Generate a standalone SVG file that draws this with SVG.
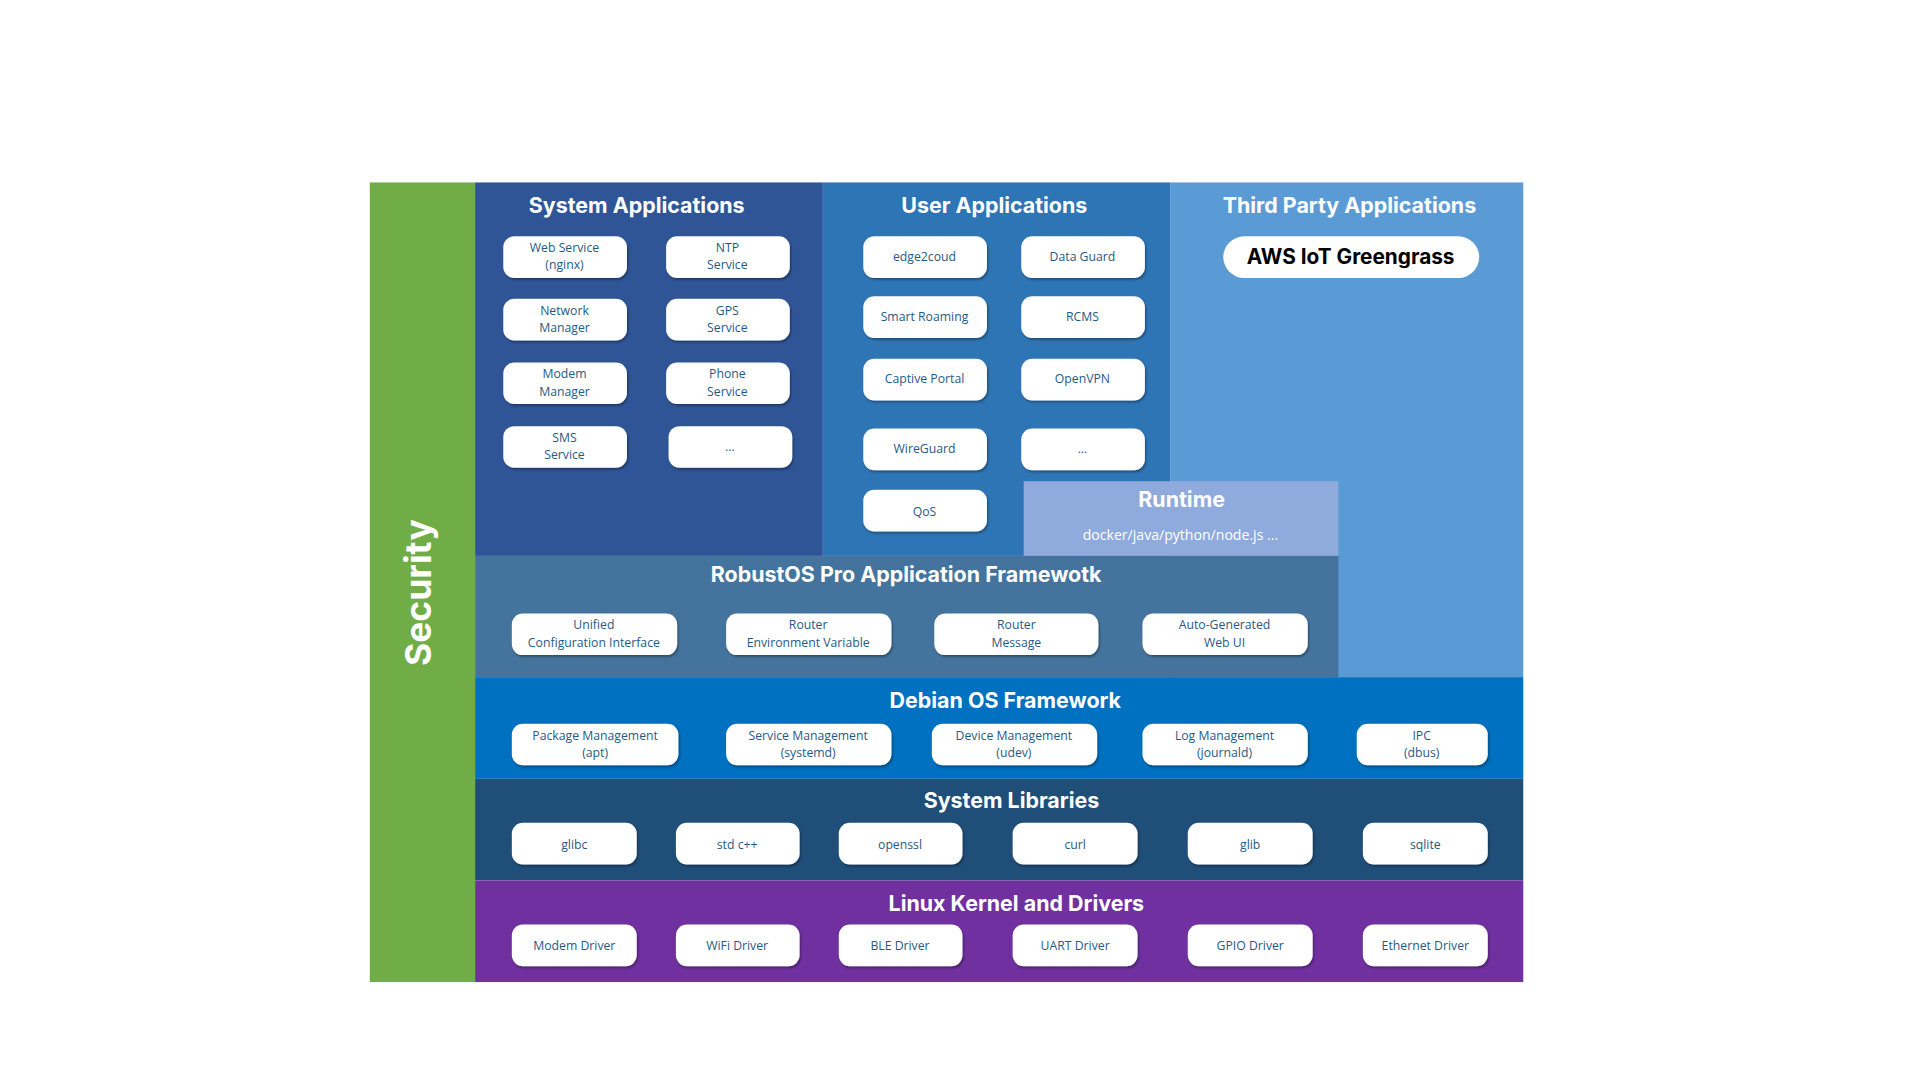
<svg xmlns="http://www.w3.org/2000/svg" width="1920" height="1080" viewBox="0 0 1920 1080">
<defs>
<filter id="sh" x="-10%" y="-20%" width="130%" height="150%"><feDropShadow dx="1" dy="1.5" stdDeviation="1" flood-color="#000" flood-opacity="0.35"/></filter>
</defs>
<style>
.t{font-family:Inter,"Liberation Sans",sans-serif;font-weight:bold;fill:#fff;font-size:17.5px;text-anchor:middle}
.b rect{fill:#fff;filter:url(#sh)}
.b text{font-family:"Open Sans","Liberation Sans",sans-serif;font-size:10px;fill:#1f5a86;text-anchor:middle}
</style>
<rect width="1920" height="1080" fill="#fff"/>
<g transform="scale(1.2245)">
<g id="layers">
<rect x="302" y="149" width="86" height="653" fill="#70AD47"/>
<rect x="388" y="149" width="284" height="305" fill="#2F5597"/>
<rect x="672" y="149" width="284" height="305" fill="#2E75B6"/>
<rect x="956" y="149" width="288" height="404" fill="#5B9BD5"/>
<rect x="836" y="393" width="257" height="61" fill="#8FAADC"/>
<rect x="388" y="454" width="705" height="99" fill="#44749D"/>
<rect x="388" y="553" width="856" height="83" fill="#0070C0"/>
<rect x="388" y="636" width="856" height="83" fill="#1F4E79"/>
<rect x="388" y="719" width="856" height="83" fill="#7030A0"/>
<text class="t" transform="translate(352,484) rotate(-90)" style="font-size:29px">Security</text>
<text class="t" x="520" y="174">System Applications</text>
<text class="t" x="812" y="174">User Applications</text>
<text class="t" x="1102" y="174">Third Party Applications</text>
<text class="t" x="965" y="414">Runtime</text>
<text x="964" y="441" font-family="'Open Sans','Liberation Sans',sans-serif" font-size="11.5" fill="#fff" text-anchor="middle">docker/java/python/node.js ...</text>
<text class="t" x="740" y="475">RobustOS Pro Application Framewotk</text>
<text class="t" x="821" y="578">Debian OS Framework</text>
<text class="t" x="826" y="660">System Libraries</text>
<text class="t" x="830" y="744">Linux Kernel and Drivers</text>
</g>
<g id="aws"><rect x="999" y="193" width="209" height="34" rx="17" fill="#fff"/><text x="1103" y="216" font-family="Inter,'Liberation Sans',sans-serif" font-weight="bold" font-size="17" text-anchor="middle">AWS IoT Greengrass</text></g>
<g class="b">
<g id="web"><rect x="411" y="193" width="101" height="34" rx="9"/><text x="461" y="206">Web Service</text><text x="461" y="220">(nginx)</text></g>
<g id="ntp"><rect x="544" y="193" width="101" height="34" rx="9"/><text x="594" y="206">NTP</text><text x="594" y="220">Service</text></g>
<g id="nm"><rect x="411" y="244" width="101" height="34" rx="9"/><text x="461" y="257">Network</text><text x="461" y="271">Manager</text></g>
<g id="gps"><rect x="544" y="244" width="101" height="34" rx="9"/><text x="594" y="257">GPS</text><text x="594" y="271">Service</text></g>
<g id="mm"><rect x="411" y="296" width="101" height="34" rx="9"/><text x="461" y="309">Modem</text><text x="461" y="323">Manager</text></g>
<g id="phone"><rect x="544" y="296" width="101" height="34" rx="9"/><text x="594" y="309">Phone</text><text x="594" y="323">Service</text></g>
<g id="sms"><rect x="411" y="348" width="101" height="34" rx="9"/><text x="461" y="361">SMS</text><text x="461" y="375">Service</text></g>
<g id="sys-more"><rect x="546" y="348" width="101" height="34" rx="9"/><text x="596" y="368">...</text></g>

<g id="e2c"><rect x="705" y="193" width="101" height="34" rx="9"/><text x="755" y="213">edge2coud</text></g>
<g id="dg"><rect x="834" y="193" width="101" height="34" rx="9"/><text x="884" y="213">Data Guard</text></g>
<g id="sr"><rect x="705" y="242" width="101" height="34" rx="9"/><text x="755" y="262">Smart Roaming</text></g>
<g id="rcms"><rect x="834" y="242" width="101" height="34" rx="9"/><text x="884" y="262">RCMS</text></g>
<g id="cp"><rect x="705" y="293" width="101" height="34" rx="9"/><text x="755" y="313">Captive Portal</text></g>
<g id="ovpn"><rect x="834" y="293" width="101" height="34" rx="9"/><text x="884" y="313">OpenVPN</text></g>
<g id="wg"><rect x="705" y="350" width="101" height="34" rx="9"/><text x="755" y="370">WireGuard</text></g>
<g id="usr-more"><rect x="834" y="350" width="101" height="34" rx="9"/><text x="884" y="370">...</text></g>
<g id="qos"><rect x="705" y="400" width="101" height="34" rx="9"/><text x="755" y="421">QoS</text></g>

<g id="uci"><rect x="418" y="501" width="135" height="34" rx="9"/><text x="485" y="514">Unified</text><text x="485" y="528">Configuration Interface</text></g>
<g id="rev"><rect x="593" y="501" width="135" height="34" rx="9"/><text x="660" y="514">Router</text><text x="660" y="528">Environment Variable</text></g>
<g id="rmsg"><rect x="763" y="501" width="134" height="34" rx="9"/><text x="830" y="514">Router</text><text x="830" y="528">Message</text></g>
<g id="webui"><rect x="933" y="501" width="135" height="34" rx="9"/><text x="1000" y="514">Auto-Generated</text><text x="1000" y="528">Web UI</text></g>

<g id="pkg"><rect x="418" y="591" width="136" height="34" rx="9"/><text x="486" y="604">Package Management</text><text x="486" y="618">(apt)</text></g>
<g id="svc"><rect x="593" y="591" width="135" height="34" rx="9"/><text x="660" y="604">Service Management</text><text x="660" y="618">(systemd)</text></g>
<g id="dev"><rect x="761" y="591" width="135" height="34" rx="9"/><text x="828" y="604">Device Management</text><text x="828" y="618">(udev)</text></g>
<g id="log"><rect x="933" y="591" width="135" height="34" rx="9"/><text x="1000" y="604">Log Management</text><text x="1000" y="618">(journald)</text></g>
<g id="ipc"><rect x="1108" y="591" width="107" height="34" rx="9"/><text x="1161" y="604">IPC</text><text x="1161" y="618">(dbus)</text></g>

<g id="glibc"><rect x="418" y="672" width="102" height="34" rx="9"/><text x="469" y="693">glibc</text></g>
<g id="stdcpp"><rect x="552" y="672" width="101" height="34" rx="9"/><text x="602" y="693">std c++</text></g>
<g id="openssl"><rect x="685" y="672" width="101" height="34" rx="9"/><text x="735" y="693">openssl</text></g>
<g id="curl"><rect x="827" y="672" width="102" height="34" rx="9"/><text x="878" y="693">curl</text></g>
<g id="glib"><rect x="970" y="672" width="102" height="34" rx="9"/><text x="1021" y="693">glib</text></g>
<g id="sqlite"><rect x="1113" y="672" width="102" height="34" rx="9"/><text x="1164" y="693">sqlite</text></g>

<g id="modemd"><rect x="418" y="755" width="102" height="34" rx="9"/><text x="469" y="776">Modem Driver</text></g>
<g id="wifid"><rect x="552" y="755" width="101" height="34" rx="9"/><text x="602" y="776">WiFi Driver</text></g>
<g id="bled"><rect x="685" y="755" width="101" height="34" rx="9"/><text x="735" y="776">BLE Driver</text></g>
<g id="uartd"><rect x="827" y="755" width="102" height="34" rx="9"/><text x="878" y="776">UART Driver</text></g>
<g id="gpiod"><rect x="970" y="755" width="102" height="34" rx="9"/><text x="1021" y="776">GPIO Driver</text></g>
<g id="ethd"><rect x="1113" y="755" width="102" height="34" rx="9"/><text x="1164" y="776">Ethernet Driver</text></g>
</g>
<g id="connectors"/>
</g>
</svg>
